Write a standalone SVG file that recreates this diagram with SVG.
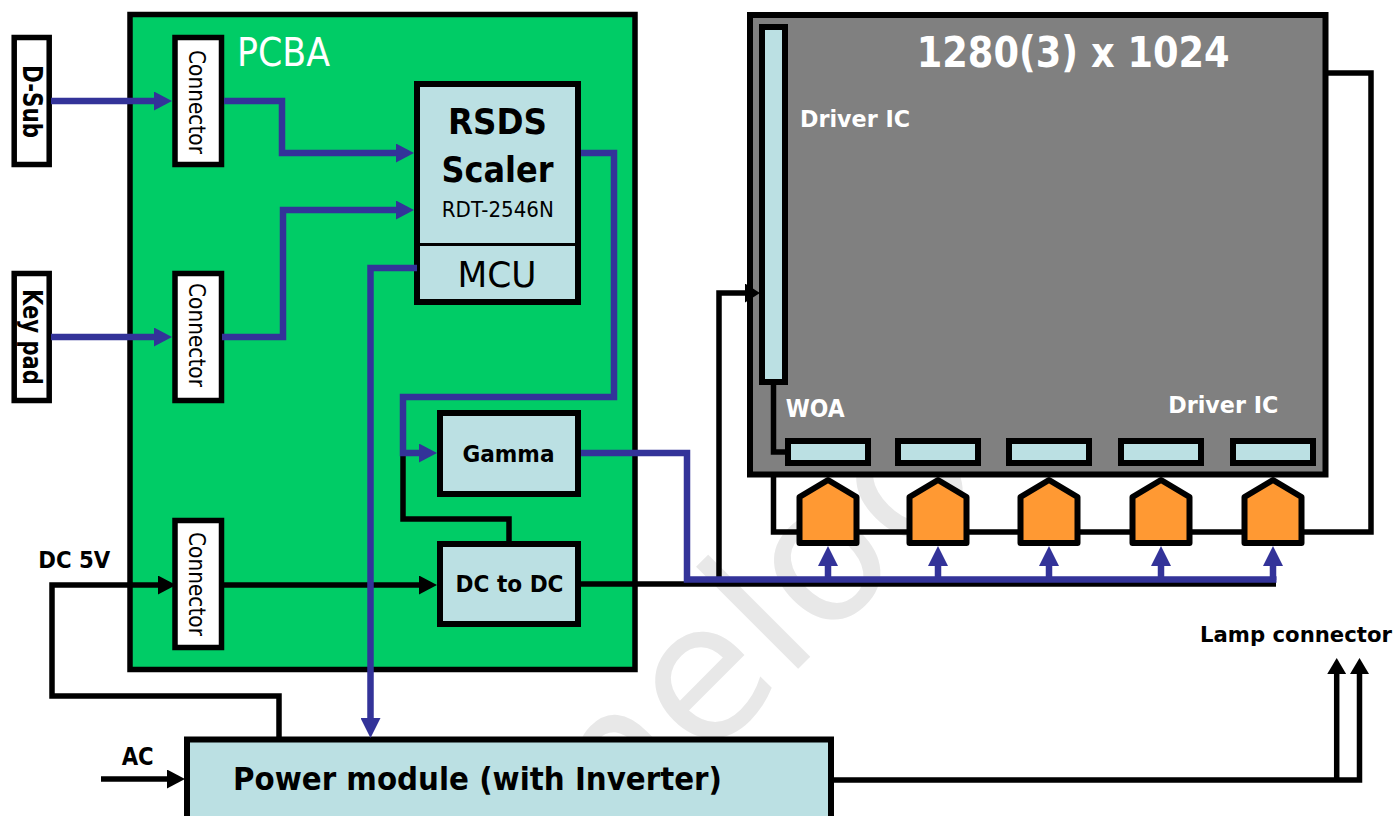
<svg xmlns="http://www.w3.org/2000/svg" width="1399" height="816" viewBox="0 0 1399 816">
<style>
text{font-family:"DejaVu Sans",Verdana,sans-serif}
.b{font-weight:bold}
.w{fill:#fff}
.box{fill:#BBE0E3;stroke:#000;stroke-width:6}
.wbox{fill:#fff;stroke:#000;stroke-width:5.5}
.blue{fill:none;stroke:#333399;stroke-width:6.5}
.blk{fill:none;stroke:#000;stroke-width:5.5}
.pent{fill:#FF9933;stroke:#000;stroke-width:6;stroke-linejoin:round}
</style>
<defs>
<marker id="ab" markerUnits="userSpaceOnUse" markerWidth="18" markerHeight="19" refX="0" refY="9.5" orient="auto" viewBox="0 0 18 19"><path d="M0,0 L18,9.5 L0,19 z" fill="#333399"/></marker>
<marker id="ak" markerUnits="userSpaceOnUse" markerWidth="18" markerHeight="19" refX="0" refY="9.5" orient="auto" viewBox="0 0 18 19"><path d="M0,0 L18,9.5 L0,19 z" fill="#000"/></marker>
<marker id="aks" markerUnits="userSpaceOnUse" markerWidth="15" markerHeight="19" refX="0" refY="9.5" orient="auto" viewBox="0 0 15 19"><path d="M0,0 L15,9.5 L0,19 z" fill="#000"/></marker>
<marker id="au" markerUnits="userSpaceOnUse" markerWidth="20" markerHeight="20" refX="0" refY="10" orient="auto" viewBox="0 0 20 20"><path d="M0,0 L20,10 L0,20 z" fill="#333399"/></marker>
<marker id="al" markerUnits="userSpaceOnUse" markerWidth="16" markerHeight="19" refX="0" refY="9.5" orient="auto" viewBox="0 0 16 19"><path d="M0,0 L16,9.5 L0,19 z" fill="#000"/></marker>
</defs>
<rect width="1399" height="816" fill="#fff"/>
<text x="0" y="0" transform="translate(450,1017) rotate(-45)" font-size="190" fill="#e8e8e8">panelook</text>

<g id="pcba"><rect x="130" y="14.5" width="505" height="655" fill="#00CC66" stroke="#000" stroke-width="5.5"/>
<text class="w" x="237" y="66" font-size="39" textLength="93" lengthAdjust="spacingAndGlyphs">PCBA</text></g>

<g id="panel"><rect x="750" y="15" width="575.5" height="459.5" fill="#808080" stroke="#000" stroke-width="6"/>
<text class="w b" x="916.7" y="66.7" font-size="42" textLength="313" lengthAdjust="spacingAndGlyphs">1280(3) x 1024</text>
<text class="w b" x="800" y="127.3" font-size="23.5" textLength="110" lengthAdjust="spacingAndGlyphs">Driver IC</text>
<text class="w b" x="785.7" y="416.7" font-size="24" textLength="59" lengthAdjust="spacingAndGlyphs">WOA</text>
<text class="w b" x="1168.3" y="413.3" font-size="23" textLength="110" lengthAdjust="spacingAndGlyphs">Driver IC</text></g>

<g id="dsub"><rect class="wbox" x="14.2" y="37.5" width="35" height="127"/>
<text class="b" transform="translate(32,101.5) rotate(90)" x="0" y="9.4" font-size="26" text-anchor="middle" textLength="73" lengthAdjust="spacingAndGlyphs">D-Sub</text></g>
<g id="keypad"><rect class="wbox" x="14.2" y="273.5" width="35" height="127"/>
<text class="b" transform="translate(32,337) rotate(90)" x="0" y="9.4" font-size="26" text-anchor="middle" textLength="96" lengthAdjust="spacingAndGlyphs">Key pad</text></g>

<g id="conn1"><rect class="wbox" x="175" y="37.5" width="46.5" height="127"/>
<text transform="translate(197,102) rotate(90)" x="0" y="8.3" font-size="23" text-anchor="middle" textLength="104" lengthAdjust="spacingAndGlyphs">Connector</text></g>
<g id="conn2"><rect class="wbox" x="175" y="273.5" width="46.5" height="127"/>
<text transform="translate(197,335) rotate(90)" x="0" y="8.3" font-size="23" text-anchor="middle" textLength="104" lengthAdjust="spacingAndGlyphs">Connector</text></g>
<g id="conn3"><rect class="wbox" x="175" y="520.5" width="46.5" height="127"/>
<text transform="translate(197,584) rotate(90)" x="0" y="8.3" font-size="23" text-anchor="middle" textLength="104" lengthAdjust="spacingAndGlyphs">Connector</text></g>

<g id="scaler"><rect class="box" x="417" y="84" width="161" height="218"/>
<line x1="417" y1="244.5" x2="578" y2="244.5" stroke="#000" stroke-width="3"/>
<text class="b" x="497.5" y="134" font-size="35" text-anchor="middle" textLength="99" lengthAdjust="spacingAndGlyphs">RSDS</text>
<text class="b" x="497.5" y="181.7" font-size="35" text-anchor="middle" textLength="112" lengthAdjust="spacingAndGlyphs">Scaler</text>
<text x="497.8" y="216.7" font-size="20.5" text-anchor="middle" textLength="112" lengthAdjust="spacingAndGlyphs">RDT-2546N</text>
<text x="497" y="286.7" font-size="35.5" text-anchor="middle" textLength="79" lengthAdjust="spacingAndGlyphs">MCU</text></g>

<g id="gamma"><rect class="box" x="440" y="413" width="138" height="81"/>
<text class="b" x="508.5" y="461.7" font-size="23" text-anchor="middle" textLength="92" lengthAdjust="spacingAndGlyphs">Gamma</text></g>
<g id="dcdc"><rect class="box" x="440" y="544" width="138" height="80"/>
<text class="b" x="509.5" y="592.3" font-size="23" text-anchor="middle" textLength="108" lengthAdjust="spacingAndGlyphs">DC to DC</text></g>

<g id="power"><rect class="box" x="187" y="739.5" width="644" height="90"/>
<text class="b" x="233" y="790" font-size="32" textLength="489" lengthAdjust="spacingAndGlyphs">Power module (with Inverter)</text></g>

<g id="vdriver"><rect class="box" x="762" y="27" width="23" height="355"/></g>
<g id="hdrivers">
<rect class="box" x="788" y="441" width="80" height="22"/>
<rect class="box" x="898" y="441" width="80" height="22"/>
<rect class="box" x="1009" y="441" width="80" height="22"/>
<rect class="box" x="1121" y="441" width="80" height="22"/>
<rect class="box" x="1233" y="441" width="80" height="22"/></g>

<g id="labels">
<text class="b" x="38.3" y="567.7" font-size="23" textLength="72" lengthAdjust="spacingAndGlyphs">DC 5V</text>
<text class="b" x="121.7" y="765" font-size="24" textLength="32" lengthAdjust="spacingAndGlyphs">AC</text>
<text class="b" x="1200" y="641.5" font-size="21.5" textLength="192" lengthAdjust="spacingAndGlyphs">Lamp connector</text></g>

<g id="connectors">
<path class="blk" d="M773.5,474 V532 H1371 V73 H1325"/>
<path class="blk" d="M279,739 V696 H52 V585 H158" marker-end="url(#ak)"/>
<path class="blk" d="M224,585 H419" marker-end="url(#ak)"/>
<path class="blk" d="M509,544 V519 H403 V453"/>
<path class="blk" d="M581,584 H1276"/>
<path class="blk" d="M719,581 V293 H745" marker-end="url(#aks)"/>
<path class="blk" d="M773.5,382 V452 H788"/>
<path class="blk" d="M101,779 H167" marker-end="url(#ak)"/>
<path class="blk" d="M831,780 H1359.5 V674" marker-end="url(#al)"/>
<path class="blk" d="M1336.7,780 V674" marker-end="url(#al)"/>
<path class="blue" d="M51,101 H154" marker-end="url(#ab)"/>
<path class="blue" d="M51,337 H154" marker-end="url(#ab)"/>
<path class="blue" d="M224,101 H282 V153 H396" marker-end="url(#ab)"/>
<path class="blue" d="M222,337 H283 V210 H396" marker-end="url(#ab)"/>
<path class="blue" d="M581,153 H614 V397 H403 V453 H419" marker-end="url(#ab)"/>
<path class="blue" d="M417,268 H370.5 V718" marker-end="url(#au)"/>
<path class="blue" d="M581,453 H687 V579.5 H1276.5"/>
<path class="blue" d="M828,580 V566" marker-end="url(#au)"/>
<path class="blue" d="M938,580 V566" marker-end="url(#au)"/>
<path class="blue" d="M1049,580 V566" marker-end="url(#au)"/>
<path class="blue" d="M1161,580 V566" marker-end="url(#au)"/>
<path class="blue" d="M1273,580 V566" marker-end="url(#au)"/>
</g>

<g id="pentagons">
<polygon class="pent" points="828,480 856.5,497 856.5,543 799.5,543 799.5,497"/>
<polygon class="pent" points="938,480 966.5,497 966.5,543 909.5,543 909.5,497"/>
<polygon class="pent" points="1049,480 1077.5,497 1077.5,543 1020.5,543 1020.5,497"/>
<polygon class="pent" points="1161,480 1189.5,497 1189.5,543 1132.5,543 1132.5,497"/>
<polygon class="pent" points="1273,480 1301.5,497 1301.5,543 1244.5,543 1244.5,497"/>
</g>
</svg>
